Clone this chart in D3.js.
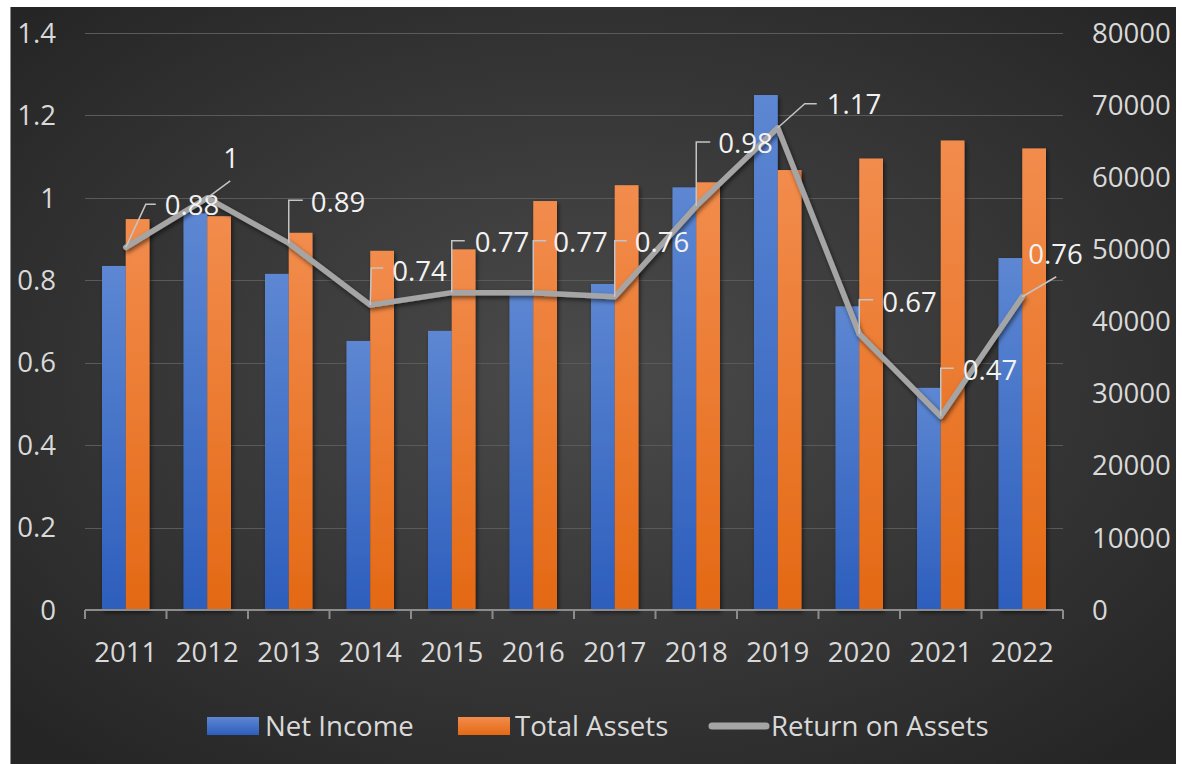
<!DOCTYPE html>
<html>
<head>
<meta charset="utf-8">
<script src="https://cdn.jsdelivr.net/npm/d3@7"></script>
<style>
  html, body { margin: 0; padding: 0; background: #ffffff; }
  svg { display: block; }
  text { font-family: "Open Sans", "Noto Sans", sans-serif; }
</style>
</head>
<body>
<svg id="chart" width="1182" height="764"></svg>
<script>
// ##### Data
var years = ['2011', '2012', '2013', '2014', '2015', '2016', '2017', '2018', '2019', '2020', '2021', '2022'];
var netIncome = [47700, 55000, 46600, 37300, 38700, 44300, 45200, 58600, 71400, 42100, 30800, 48800];
var totalAssets = [54200, 54600, 52300, 49800, 50000, 56700, 58900, 59300, 61000, 62600, 65100, 64000];
var returnOnAssets = [0.88, 1, 0.89, 0.74, 0.77, 0.77, 0.76, 0.98, 1.17, 0.67, 0.47, 0.76];
var leftTicks = [0, 0.2, 0.4, 0.6, 0.8, 1, 1.2, 1.4];
var rightTicks = [0, 10000, 20000, 30000, 40000, 50000, 60000, 70000, 80000];

// Data label placement (offsets from the point, in px): elbow of the leader, length of its flat part, text
var labelLayout = [
  {ex: 20, ey: -43, len: 10, tx: 39, ty: -42},
  {ex: 23, ey: -17, len: 0, tx: 16, ty: -40},
  {ex: 0, ey: -43, len: 14, tx: 22, ty: -41},
  {ex: 1, ey: -37, len: 12, tx: 22, ty: -34},
  {ex: 0, ey: -52, len: 13, tx: 23, ty: -50},
  {ex: 0, ey: -52, len: 13, tx: 20, ty: -50},
  {ex: 0, ey: -56, len: 12, tx: 20, ty: -54},
  {ex: 0, ey: -64, len: 14, tx: 22, ty: -63},
  {ex: 27, ey: -24, len: 12, tx: 49, ty: -23},
  {ex: 0, ey: -34, len: 14, tx: 23, ty: -32},
  {ex: 0, ey: -48, len: 13, tx: 22, ty: -46},
  {ex: 34, ey: -20, len: 0, tx: 6, ty: -42}
];

// ##### Layout
var svg = d3.select('#chart');
var plot = {left: 85, right: 1063, top: 33, bottom: 610};
var fontSize = 27.6;
var textColour = '#d9d9d9';

// Gradients and shadows
var defs = svg.append('defs');

var bg = defs.append('radialGradient').attr('id', 'bg')
  .attr('cx', '50%').attr('cy', '48%').attr('r', '68%');
bg.append('stop').attr('offset', '0%').attr('stop-color', '#4b4b4b');
bg.append('stop').attr('offset', '100%').attr('stop-color', '#252525');

function barGradient(id, top, bottom) {
  var g = defs.append('linearGradient').attr('id', id)
    .attr('x1', 0).attr('y1', 0).attr('x2', 0).attr('y2', 1);
  g.append('stop').attr('offset', '0%').attr('stop-color', top);
  g.append('stop').attr('offset', '100%').attr('stop-color', bottom);
}
barGradient('blueGrad', '#5d87d2', '#2d5ebd');
barGradient('orangeGrad', '#f28c4d', '#e46914');

var shadow = defs.append('filter').attr('id', 'shadow')
  .attr('x', '-20%').attr('y', '-20%').attr('width', '140%').attr('height', '140%');
shadow.append('feDropShadow').attr('dx', 1.5).attr('dy', 2.5)
  .attr('stdDeviation', 2).attr('flood-color', '#000').attr('flood-opacity', 0.55);

// Background
svg.append('rect').attr('x', 10).attr('y', 7).attr('width', 1166).attr('height', 760)
  .attr('fill', 'url(#bg)');
svg.append('line').attr('x1', 10.5).attr('x2', 10.5).attr('y1', 7).attr('y2', 764)
  .attr('stroke', '#8a8a8a').attr('stroke-width', 1);

// ##### Scales
var x = d3.scaleBand().domain(years).range([plot.left, plot.right]);
var yLeft = d3.scaleLinear().domain([0, 1.4]).range([plot.bottom, plot.top]);
var yRight = d3.scaleLinear().domain([0, 80000]).range([plot.bottom, plot.top]);

var groupPad = 17;
var barW = (x.bandwidth() - 2 * groupPad) / 2;

// Gridlines
svg.append('g').selectAll('line').data(leftTicks.filter(function(d) { return d > 0; }))
  .enter().append('line')
  .attr('x1', plot.left).attr('x2', plot.right)
  .attr('y1', function(d) { return Math.round(yLeft(d)) + 0.5; })
  .attr('y2', function(d) { return Math.round(yLeft(d)) + 0.5; })
  .attr('stroke', '#5a5a5a').attr('stroke-width', 1.2);

// ##### Bars
var bars = svg.append('g').attr('filter', 'url(#shadow)');

bars.selectAll('rect.ni').data(netIncome).enter().append('rect')
  .attr('class', 'ni')
  .attr('x', function(d, i) { return x(years[i]) + groupPad; })
  .attr('y', function(d) { return yRight(d); })
  .attr('width', barW)
  .attr('height', function(d) { return yRight(0) - yRight(d); })
  .attr('fill', 'url(#blueGrad)');

bars.selectAll('rect.ta').data(totalAssets).enter().append('rect')
  .attr('class', 'ta')
  .attr('x', function(d, i) { return x(years[i]) + groupPad + barW; })
  .attr('y', function(d) { return yRight(d); })
  .attr('width', barW)
  .attr('height', function(d) { return yRight(0) - yRight(d); })
  .attr('fill', 'url(#orangeGrad)');

// ##### Axes
// Bottom axis with ticks between categories
var xAxis = svg.append('g');
xAxis.append('line').attr('x1', plot.left).attr('x2', plot.right)
  .attr('y1', plot.bottom).attr('y2', plot.bottom)
  .attr('stroke', '#8c8c8c').attr('stroke-width', 2);
xAxis.selectAll('line.tick').data(years.concat(['end'])).enter().append('line')
  .attr('class', 'tick')
  .attr('x1', function(d, i) { return i < years.length ? x(d) : plot.right; })
  .attr('x2', function(d, i) { return i < years.length ? x(d) : plot.right; })
  .attr('y1', plot.bottom).attr('y2', plot.bottom + 9)
  .attr('stroke', '#8c8c8c').attr('stroke-width', 2);
xAxis.selectAll('text').data(years).enter().append('text')
  .attr('x', function(d) { return x(d) + x.bandwidth() / 2; })
  .attr('y', 652).attr('dy', '0.35em')
  .attr('text-anchor', 'middle')
  .attr('font-size', fontSize).attr('fill', textColour)
  .text(function(d) { return d; });

// Left axis labels
svg.append('g').selectAll('text').data(leftTicks).enter().append('text')
  .attr('x', 56).attr('y', function(d) { return yLeft(d); }).attr('dy', '0.35em')
  .attr('text-anchor', 'end')
  .attr('font-size', fontSize).attr('fill', textColour)
  .text(function(d) { return d3.format('')(+d.toFixed(1)); });

// Right axis labels
svg.append('g').selectAll('text').data(rightTicks).enter().append('text')
  .attr('x', 1092).attr('y', function(d) { return yRight(d); }).attr('dy', '0.35em')
  .attr('text-anchor', 'start')
  .attr('font-size', fontSize).attr('fill', textColour)
  .text(function(d) { return d; });

// ##### Line (left axis)
var lineGen = d3.line()
  .x(function(d, i) { return x(years[i]) + x.bandwidth() / 2; })
  .y(function(d) { return yLeft(d); });

svg.append('path').datum(returnOnAssets)
  .attr('d', lineGen)
  .attr('fill', 'none')
  .attr('stroke', '#a5a5a5').attr('stroke-width', 5.5)
  .attr('stroke-linejoin', 'round').attr('stroke-linecap', 'round')
  .attr('filter', 'url(#shadow)');

// ##### Data labels with leader lines
var labels = svg.append('g');
returnOnAssets.forEach(function(v, i) {
  var px = x(years[i]) + x.bandwidth() / 2;
  var py = yLeft(v);
  var l = labelLayout[i];
  var path = d3.path();
  path.moveTo(px, py);
  path.lineTo(px + l.ex, py + l.ey);
  if (l.len > 0) path.lineTo(px + l.ex + l.len, py + l.ey);
  labels.append('path').attr('d', path.toString())
    .attr('fill', 'none').attr('stroke', '#c4c4c4').attr('stroke-width', 1.5);
  labels.append('text')
    .attr('x', px + l.tx).attr('y', py + l.ty).attr('dy', '0.35em')
    .attr('font-size', fontSize).attr('fill', '#f2f2f2')
    .text(v);
});

// ##### Legend
var legend = svg.append('g');
var legendY = 726;
legend.append('rect').attr('x', 207).attr('y', legendY - 9).attr('width', 52).attr('height', 18)
  .attr('fill', 'url(#blueGrad)');
legend.append('text').attr('x', 265).attr('y', legendY).attr('dy', '0.35em')
  .attr('font-size', fontSize).attr('fill', textColour).text('Net Income');
legend.append('rect').attr('x', 458).attr('y', legendY - 9).attr('width', 52).attr('height', 18)
  .attr('fill', 'url(#orangeGrad)');
legend.append('text').attr('x', 515).attr('y', legendY).attr('dy', '0.35em')
  .attr('font-size', fontSize).attr('fill', textColour).text('Total Assets');
legend.append('line').attr('x1', 712).attr('x2', 766).attr('y1', legendY).attr('y2', legendY)
  .attr('stroke', '#a5a5a5').attr('stroke-width', 7).attr('stroke-linecap', 'round');
legend.append('text').attr('x', 771).attr('y', legendY).attr('dy', '0.35em')
  .attr('font-size', fontSize).attr('fill', textColour).text('Return on Assets');
</script>
</body>
</html>
